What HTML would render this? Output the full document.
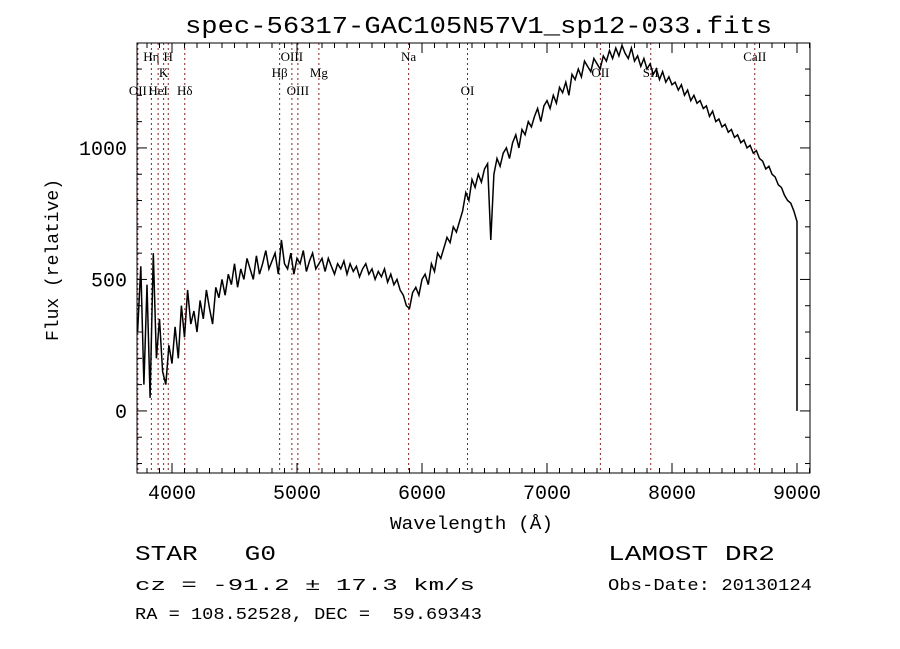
<!DOCTYPE html>
<html><head><meta charset="utf-8"><style>
body{margin:0;background:#fff;}
svg{display:block;}
text{white-space:pre;}
.mono{font-family:"Liberation Mono",monospace;}
.serif{font-family:"Liberation Serif",serif;font-size:13px;}
</style></head><body>
<svg id="chart" width="900" height="649" viewBox="0 0 900 649" xml:space="preserve">
<rect width="900" height="649" fill="#fff"/>
<text x="185" y="33" textLength="587" lengthAdjust="spacingAndGlyphs" class="mono" font-size="24">spec-56317-GAC105N57V1_sp12-033.fits</text>
<g id="lines"></g>
<g id="spec"></g>
<rect x="137" y="43" width="673" height="430" fill="none" stroke="#000" stroke-width="1"/>
<g id="axes"></g>
<text x="390" y="529" textLength="163" lengthAdjust="spacingAndGlyphs" class="mono" font-size="18">Wavelength (Å)</text>
<text transform="translate(58,260) rotate(-90)" text-anchor="middle" class="mono" font-size="18">Flux (relative)</text>
<text x="135" y="560" textLength="141" lengthAdjust="spacingAndGlyphs" class="mono" font-size="21">STAR   G0</text>
<text x="135" y="590" textLength="340" lengthAdjust="spacingAndGlyphs" class="mono" font-size="17">cz = -91.2 ± 17.3 km/s</text>
<text x="135" y="619" textLength="347" lengthAdjust="spacingAndGlyphs" class="mono" font-size="17">RA = 108.52528, DEC =  59.69343</text>
<text x="608" y="560" textLength="167" lengthAdjust="spacingAndGlyphs" class="mono" font-size="21">LAMOST DR2</text>
<text x="608" y="590" textLength="204" lengthAdjust="spacingAndGlyphs" class="mono" font-size="17">Obs-Date: 20130124</text>
</svg>
<script>
const startWave = 3725;
const waveStep = 25;
const flux = [300,550,100,480,50,600,200,350,
150,100,250,180,
320,200,400,280,460,330,380,300,
420,350,460,390,330,470,430,500,
440,520,480,560,470,540,500,580,
540,500,590,520,560,610,540,570,
600,520,650,560,540,600,520,580,
560,610,530,570,600,540,560,580,
530,580,550,520,560,540,570,520,
560,530,550,510,540,560,520,540,
500,530,510,540,490,520,480,500,
460,440,400,390,450,470,440,500,
520,480,560,530,600,580,620,660,
640,700,680,720,760,830,800,880,
850,900,870,920,940,650,900,960,
930,980,1000,960,1020,1050,1000,1070,
1050,1100,1080,1120,1150,1100,1160,1180,
1150,1200,1170,1230,1210,1250,1200,1280,
1260,1300,1270,1330,1310,1290,1340,1320,
1300,1350,1330,1370,1340,1380,1350,1390,
1360,1340,1380,1330,1350,1310,1340,1300,
1320,1280,1300,1260,1290,1250,1270,1240,
1250,1220,1240,1200,1220,1180,1200,1170,
1180,1150,1160,1120,1140,1100,1110,1080,
1090,1060,1070,1040,1050,1020,1030,1000,
1010,980,990,960,950,920,930,900,
890,860,850,820,800,790,760,720];
const endFlux = 0;
const lineNames = ["OII","Hη","HeI","K","H","Hδ","Hβ","OIII","OIII","Mg","Na","OI","OII","SII","CaII"];
const lineWaves = [3727,3835,3889,3933,3970,4102,4861,4959,5007,5175,5893,6364,7427,7830,8662];
const lineRows = [2,0,2,1,0,2,1,0,2,1,0,2,1,1,0];
const xTicks = [4000,5000,6000,7000,8000,9000];
const yTicks = [0,500,1000];

const X0=137,X1=810,Y0=473,Y1=43;
const wMin=3720,wMax=9104,fMin=-236,fMax=1399;
const xs=w=>X0+(w-wMin)/(wMax-wMin)*(X1-X0);
const ys=f=>Y0-(f-fMin)/(fMax-fMin)*(Y0-Y1);
const NS="http://www.w3.org/2000/svg";
function mk(tag,parent){const e=document.createElementNS(NS,tag);parent.appendChild(e);return e;}

const specG=document.getElementById('spec');
let d="";
flux.forEach((f,i)=>{const w=startWave+i*waveStep;d+=(i?"L":"M")+xs(w).toFixed(1)+" "+ys(f).toFixed(1);});
const lastW=startWave+(flux.length-1)*waveStep;
d+="L"+xs(lastW).toFixed(1)+" "+ys(endFlux).toFixed(1);
const p=mk('path',specG);
p.setAttribute('d',d);p.setAttribute('fill','none');p.setAttribute('stroke','#000');p.setAttribute('stroke-width','1.5');



const linesG=document.getElementById('lines');
const rowY=[61,77,95];
lineWaves.forEach((w,i)=>{
  const x=xs(w);
  const l=mk('line',linesG);
  l.setAttribute('x1',x);l.setAttribute('x2',x);l.setAttribute('y1',Y1);l.setAttribute('y2',Y0);
  l.setAttribute('stroke','#8b2020');l.setAttribute('stroke-dasharray','2,3');l.setAttribute('stroke-width','1');
  
  
  const t=mk('text',linesG);
  t.setAttribute('x',x);t.setAttribute('y',rowY[lineRows[i]]);t.setAttribute('text-anchor','middle');t.setAttribute('class','serif');
  t.textContent=lineNames[i];
  
  
});

const axG=document.getElementById('axes');
function tick(x1,y1,x2,y2){const l=mk('line',axG);l.setAttribute('x1',x1);l.setAttribute('y1',y1);l.setAttribute('x2',x2);l.setAttribute('y2',y2);l.setAttribute('stroke','#000');

}
for(let w=3800;w<=9100;w+=100){const x=xs(w);const L=(w%1000===0)?10:5;tick(x,Y0,x,Y0-L);tick(x,Y1,x,Y1+L);}
for(let f=-200;f<=1300;f+=100){const y=ys(f);const L=(f%500===0)?10:5;tick(X0,y,X0+L,y);tick(X1,y,X1-L,y);}
xTicks.forEach(w=>{const t=mk('text',axG);t.setAttribute('x',xs(w));t.setAttribute('y',Y0+26);t.setAttribute('text-anchor','middle');t.setAttribute('class','mono');t.setAttribute('font-size','20');t.textContent=w;

});
yTicks.forEach(f=>{const t=mk('text',axG);t.setAttribute('x',X0-10);t.setAttribute('y',ys(f)+7);t.setAttribute('text-anchor','end');t.setAttribute('class','mono');t.setAttribute('font-size','20');t.textContent=f;

});
</script>
</body></html>
